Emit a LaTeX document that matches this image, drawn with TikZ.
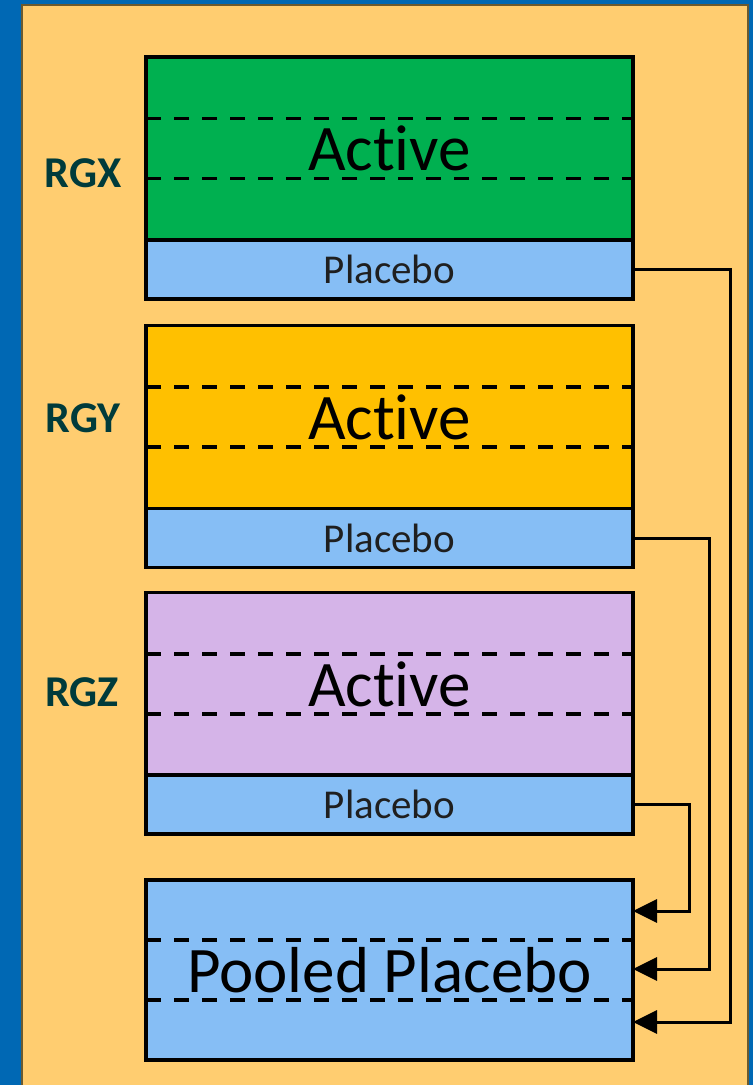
\documentclass[tikz,border=0pt]{standalone}
\usepackage{fontspec}
\setmainfont[Ligatures={NoCommon,NoContextual}]{Carlito}
\usetikzlibrary{arrows.meta}
\definecolor{bgblue}{HTML}{0068B4}
\definecolor{panel}{HTML}{FFCD70}
\definecolor{paneledge}{HTML}{6B5A30}
\definecolor{actgreen}{HTML}{00B050}
\definecolor{actorange}{HTML}{FFC000}
\definecolor{actlav}{HTML}{D5B4E8}
\definecolor{plblue}{HTML}{86BEF5}
\definecolor{lbl}{HTML}{003B3B}
\tikzset{
  box/.style={draw=black, line width=3.2pt, minimum width=487pt, inner sep=0pt, outer sep=0pt},
  activebox/.style={box, minimum height=183pt, font=\fontsize{65}{70}\selectfont},
  placebox/.style={box, fill=plblue, minimum height=59pt, font=\fontsize{41}{44}\selectfont, text=black!88},
  poolbox/.style={box, fill=plblue, minimum height=180pt, font=\fontsize{65}{70}\selectfont},
  divider/.style={line width=3.2pt, dash pattern=on 15pt off 13pt},
  grp/.style={font=\bfseries\fontsize{44}{48}\selectfont, text=lbl},
  link/.style={line width=3pt, -{Triangle[length=24pt,width=23pt]}}
}
\begin{document}
\begin{tikzpicture}[x=1pt,y=-1pt]
\fill[bgblue] (0,0) rectangle (753,1085);
\useasboundingbox (0,0) rectangle (753,1085);
\filldraw[fill=panel, draw=paneledge, line width=1.5pt] (22,5) rectangle (748,1095);

\node[activebox, fill=actgreen] (ax) at (389.5,148.5) {Active};
\node[placebox] (px) at (389.5,269.5) {Placebo};
\node[activebox, fill=actorange] (ay) at (389.5,417) {Active};
\node[placebox] (py) at (389.5,538) {Placebo};
\node[activebox, fill=actlav] (az) at (389.5,684) {Active};
\node[placebox] (pz) at (389.5,804.5) {Placebo};
\node[poolbox] (pool) at (389.5,970) {Pooled Placebo};

\foreach \n in {ax,ay,az,pool}{
  \draw[divider] ([yshift=30pt]\n.west) -- ([yshift=30pt]\n.east);
  \draw[divider] ([yshift=-30pt]\n.west) -- ([yshift=-30pt]\n.east);
}

\node[grp] (lx) at (83,173) {RGX};
\node[grp] (ly) at (83,418) {RGY};
\node[grp] (lz) at (82,692) {RGZ};

\coordinate (jx) at (730,1022);
\coordinate (jy) at (709,969);
\coordinate (jz) at (689,911);
\draw[link] (px.east) -| (jx) -- (pool.east |- jx);
\draw[link] (py.east) -| (jy) -- (pool.east |- jy);
\draw[link] (pz.east) -| (jz) -- (pool.east |- jz);
\end{tikzpicture}
\end{document}
